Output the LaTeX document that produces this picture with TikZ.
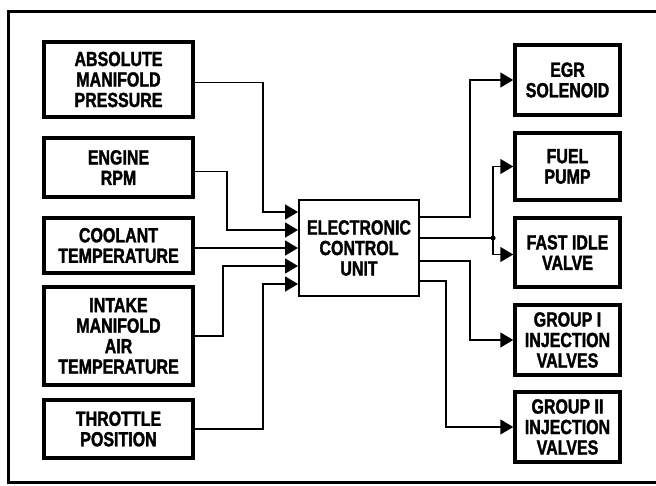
\documentclass[tikz,border=0pt]{standalone}
\usepackage{fontspec}
\setmainfont{Liberation Sans}[FakeStretch=0.78,FakeBold=1.6]
\usetikzlibrary{arrows.meta,calc}
\begin{document}
\begin{tikzpicture}[x=1pt,y=-1pt,
  lbl/.style={font=\fontsize{20.5}{20.5}\selectfont\bfseries, align=center, inner sep=0pt},
  inbox/.style={lbl, draw, line width=3.5pt, minimum width=149pt},
  outbox/.style={lbl, draw, line width=3.5pt, minimum width=105pt, minimum height=70pt},
  ecubox/.style={lbl, draw, line width=2pt, minimum width=120pt, minimum height=96pt},
  conn/.style={line width=1.5pt, -{Triangle[length=13pt,width=15pt]}},
  wire/.style={line width=1.5pt}]
\useasboundingbox (0,0) rectangle (656,485);
% frame
\draw[line width=3pt] (662,11) -- (8,11) -- (8,482) -- (662,482);
% input boxes
\node[inbox, minimum height=75pt] (amp) at (118.5,79.5) {ABSOLUTE\\MANIFOLD\\PRESSURE};
\node[inbox, minimum height=59pt] (rpm) at (118.5,167.5) {ENGINE\\RPM};
\node[inbox, minimum height=55pt] (cool) at (118.5,245.5) {COOLANT\\TEMPERATURE};
\node[inbox, minimum height=98pt] (imat) at (118.5,336) {INTAKE\\MANIFOLD\\AIR\\TEMPERATURE};
\node[inbox, minimum height=58pt] (tps) at (118.5,429) {THROTTLE\\POSITION};
% ECU
\node[ecubox] (ecu) at (359,248) {ELECTRONIC\\CONTROL\\UNIT};
% output boxes
\node[outbox] (egr) at (567.5,80) {EGR\\SOLENOID};
\node[outbox, minimum height=67pt] (fuel) at (567.5,166.5) {FUEL\\PUMP};
\node[outbox, minimum height=69pt] (fast) at (567.5,252.5) {FAST IDLE\\VALVE};
\node[outbox] (g1) at (567.5,340) {GROUP I\\INJECTION\\VALVES};
\node[outbox] (g2) at (567.5,427) {GROUP II\\INJECTION\\VALVES};
% input entry points on ECU
\coordinate (in1) at (ecu.west |- 0,212);
\coordinate (in2) at (ecu.west |- 0,230);
\coordinate (in3) at (ecu.west |- 0,248);
\coordinate (in4) at (ecu.west |- 0,266);
\coordinate (in5) at (ecu.west |- 0,284);
\draw[conn] ($(amp.east)+(0,3)$) -| (263,212) -- (in1);
\draw[conn] ($(rpm.east)+(0,4)$) -| (227,230) -- (in2);
\draw[conn] (cool.east |- in3) -- (in3);
\draw[conn] (imat.east) -| (223,266) -- (in4);
\draw[conn] (tps.east) -| (263,284) -- (in5);
% output exit points on ECU
\coordinate (out1) at (ecu.east |- 0,217);
\coordinate (out2) at (ecu.east |- 0,238);
\coordinate (out3) at (ecu.east |- 0,261);
\coordinate (out4) at (ecu.east |- 0,281);
\coordinate (jn) at (493,238);
\draw[conn] (out1) -| (470,80) -- (egr.west);
\draw[wire] (out2) -- (jn);
\draw[conn] (jn) |- (fuel.west);
\draw[conn] (jn) |- ($(fast.west)+(0,2)$);
\fill (jn) circle (2.6pt);
\draw[conn] (out3) -| (470,340) -- (g1.west);
\draw[conn] (out4) -| (446,427) -- (g2.west);
\end{tikzpicture}
\end{document}
